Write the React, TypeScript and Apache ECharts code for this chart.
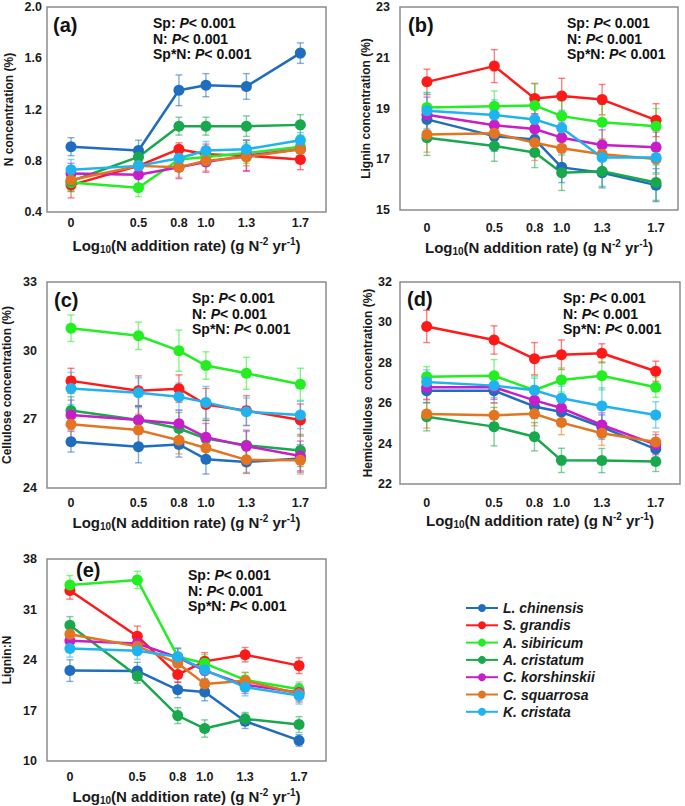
import React, { useEffect, useRef } from "react";
import * as echarts from "echarts";

// ---------- DATA ----------
const xPositions = [0, 0.5, 0.8, 1.0, 1.3, 1.7];
const xTickLabels = ["0", "0.5", "0.8", "1.0", "1.3", "1.7"];

const species = [
  "L. chinensis",
  "S. grandis",
  "A. sibiricum",
  "A. cristatum",
  "C. korshinskii",
  "C. squarrosa",
  "K. cristata",
];

// (a) N concentration (%)
const nConc = [
  [0.91, 0.88, 1.35, 1.39, 1.38, 1.64],
  [0.61, 0.76, 0.89, 0.85, 0.84, 0.81],
  [0.63, 0.59, 0.81, 0.83, 0.86, 0.91],
  [0.64, 0.83, 1.07, 1.07, 1.07, 1.08],
  [0.7, 0.69, 0.75, 0.79, 0.84, 0.89],
  [0.65, 0.76, 0.75, 0.8, 0.83, 0.89],
  [0.73, 0.76, 0.82, 0.88, 0.89, 0.96],
];
const nConcErr = [
  [0.07, 0.08, 0.12, 0.09, 0.1, 0.08],
  [0.1, 0.06, 0.05, 0.08, 0.12, 0.08],
  [0.07, 0.07, 0.07, 0.07, 0.08, 0.08],
  [0.08, 0.08, 0.07, 0.07, 0.08, 0.08],
  [0.08, 0.07, 0.09, 0.08, 0.12, 0.08],
  [0.08, 0.07, 0.08, 0.08, 0.07, 0.08],
  [0.08, 0.07, 0.07, 0.07, 0.07, 0.06],
];

// (b) Lignin concentration (%)
const ligninConc = [
  [18.57, 17.91, 17.78, 16.68, 16.47, 15.98],
  [20.05, 20.67, 19.39, 19.49, 19.35, 18.54],
  [19.04, 19.09, 19.12, 18.7, 18.46, 18.3],
  [17.85, 17.52, 17.27, 16.47, 16.53, 16.08],
  [18.75, 18.34, 18.19, 17.85, 17.56, 17.47],
  [17.98, 18.02, 17.65, 17.43, 17.2, 17.01],
  [18.91, 18.74, 18.57, 18.23, 17.07, 17.07],
];
const ligninConcErr = [
  [0.6, 0.6, 0.6, 0.6, 0.6, 0.65],
  [0.5, 0.65, 0.6, 0.7, 0.6, 0.65],
  [0.6, 0.6, 0.85, 0.6, 0.7, 0.7],
  [0.7, 0.6, 0.6, 0.7, 0.6, 0.7],
  [0.7, 0.6, 0.6, 0.6, 0.6, 0.6],
  [0.7, 0.6, 0.7, 0.6, 0.6, 0.6],
  [0.7, 0.6, 0.6, 0.7, 0.6, 0.6],
];

// (c) Cellulose concentration (%)
const celluloseConc = [
  [26.02, 25.8, 25.9, 25.26, 25.14, 25.29],
  [28.68, 28.25, 28.34, 27.65, 27.38, 26.97],
  [30.98, 30.65, 30.0, 29.35, 29.01, 28.53],
  [27.39, 26.97, 26.6, 26.16, 25.87, 25.64],
  [27.19, 26.97, 26.81, 26.22, 25.83, 25.4],
  [26.78, 26.53, 26.09, 25.75, 25.23, 25.21],
  [28.35, 28.16, 27.99, 27.74, 27.33, 27.19],
];
const celluloseConcErr = [
  [0.45, 0.7, 0.55, 0.65, 0.5, 0.6],
  [0.55, 0.65, 0.6, 0.7, 0.65, 0.7],
  [0.58, 0.6, 0.9, 0.6, 0.7, 0.7],
  [0.6, 0.6, 0.7, 0.8, 0.6, 0.7],
  [0.65, 0.6, 0.6, 0.6, 0.7, 0.65],
  [0.6, 0.7, 0.6, 0.6, 0.55, 0.6],
  [0.7, 0.65, 0.6, 0.7, 0.6, 0.6],
];

// (d) Hemicellulose concentration (%)
const hemiConc = [
  [26.62, 26.62, 25.84, 25.56, 24.82, 23.73],
  [29.8, 29.13, 28.2, 28.4, 28.47, 27.58],
  [27.31, 27.36, 26.64, 27.15, 27.36, 26.79],
  [25.33, 24.84, 24.34, 23.17, 23.16, 23.12],
  [26.79, 26.79, 26.14, 25.76, 24.92, 23.95],
  [25.47, 25.4, 25.48, 25.04, 24.51, 24.08],
  [27.05, 26.87, 26.64, 26.24, 25.86, 25.42],
];
const hemiConcErr = [
  [0.6, 0.6, 0.6, 0.6, 0.6, 0.5],
  [0.8, 0.7, 0.8, 0.73, 0.47, 0.5],
  [0.5, 0.8, 0.7, 0.6, 0.7, 0.5],
  [0.7, 0.95, 0.7, 0.6, 0.6, 0.5],
  [0.6, 0.6, 0.6, 0.6, 0.6, 0.5],
  [0.7, 0.6, 0.6, 0.6, 0.6, 0.5],
  [0.6, 0.6, 0.6, 0.6, 0.9, 0.65],
];

// (e) Lignin:N
const ligninN = [
  [22.53, 22.48, 19.87, 19.55, 15.51, 12.85],
  [33.63, 27.3, 21.98, 23.81, 24.73, 23.22],
  [34.41, 35.1, 24.46, 23.54, 21.24, 19.96],
  [28.82, 21.79, 16.29, 14.5, 15.83, 15.05],
  [26.66, 26.29, 24.36, 22.53, 20.56, 19.5],
  [27.58, 25.92, 23.54, 20.69, 21.11, 19.32],
  [25.6, 25.28, 24.46, 22.62, 20.23, 19.09],
];
const ligninNErr = [
  [1.5, 1.2, 1.1, 1.2, 1.0, 0.8],
  [1.2, 1.4, 1.1, 1.2, 1.0, 1.1],
  [1.3, 1.2, 1.2, 1.2, 1.0, 1.0],
  [1.2, 1.0, 1.1, 1.2, 0.9, 1.1],
  [1.2, 1.2, 1.2, 1.2, 1.2, 1.2],
  [1.2, 1.2, 1.2, 1.2, 1.2, 1.2],
  [1.2, 1.2, 1.2, 1.2, 1.2, 1.2],
];

const panelValues = [nConc, ligninConc, celluloseConc, hemiConc, ligninN];
const panelErrors = [nConcErr, ligninConcErr, celluloseConcErr, hemiConcErr, ligninNErr];
const panelLetters = ["(a)", "(b)", "(c)", "(d)", "(e)"];
const yAxisNames = [
  "N concentration (%)",
  "Lignin concentration (%)",
  "Cellulose concentration (%)",
  "Hemicellulose  concentration (%)",
  "Lignin:N",
];
const yMins = [0.4, 15, 24, 22, 10];
const yMaxs = [2.0, 23, 33, 32, 38];
const yIntervals = [0.4, 2, 3, 2, 7];
const statLines = ["Sp", "N", "Sp*N"];
const statP = "< 0.001";

// ---------- STYLE / LAYOUT ----------
const colors = ["#1f6dbf", "#ff1a1a", "#22ee22", "#1aa84e", "#c81ec8", "#e37520", "#1fb3f0"];
const FONT = '"Liberation Sans", Arial, Helvetica, sans-serif';

const grids = [
  { left: 47, top: 7, width: 279, height: 205 },
  { left: 400, top: 7, width: 278, height: 203 },
  { left: 47, top: 282, width: 279, height: 206 },
  { left: 400, top: 282, width: 280, height: 202 },
  { left: 47, top: 559, width: 279, height: 204 },
];
const xRanges = [
  [-0.178, 1.89],
  [-0.2, 1.863],
  [-0.178, 1.89],
  [-0.198, 1.88],
  [-0.17, 1.9],
];
const xLabelMargins = [4, 11, 8, 12, 9];
const xNameGaps = [24, 28, 25, 27, 26];
const yLabelMargins = [5, 10, 10, 8, 10];
const yNameGaps = [32, 26, 34, 26, 34];
const letterPos = [
  [53, 25],
  [408, 25],
  [54, 300],
  [407, 299],
  [76, 570],
];
const statPos = [
  [153, 23],
  [567, 23],
  [192, 298],
  [563, 298],
  [188, 575],
];

function rgba(hex: string, a: number) {
  const h = hex.replace("#", "");
  const r = parseInt(h.slice(0, 2), 16);
  const g = parseInt(h.slice(2, 4), 16);
  const b = parseInt(h.slice(4, 6), 16);
  return `rgba(${r},${g},${b},${a})`;
}

export default function App() {
  const ref = useRef<HTMLDivElement>(null);

  useEffect(() => {
    if (!ref.current) return;
    const chart = echarts.init(ref.current, null, { renderer: "svg" });

    const xName =
      "{n|Log}{sub|10}{n|(N addition rate) (g N}{sup|-2}{n| yr}{sup|-1}{n|)}";
    const xNameRich = {
      n: { fontSize: 15, fontWeight: "bold", fontFamily: FONT, color: "#1a1a1a", lineHeight: 18 },
      sub: {
        fontSize: 10,
        fontWeight: "bold",
        fontFamily: FONT,
        color: "#1a1a1a",
        lineHeight: 10,
        verticalAlign: "bottom",
      },
      sup: {
        fontSize: 10,
        fontWeight: "bold",
        fontFamily: FONT,
        color: "#1a1a1a",
        lineHeight: 10,
        verticalAlign: "top",
      },
    };

    const xAxes = grids.map((_, i) => ({
      type: "value",
      gridIndex: i,
      min: xRanges[i][0],
      max: xRanges[i][1],
      splitLine: { show: false },
      axisLine: { show: false },
      axisTick: { show: false },
      axisLabel: {
        customValues: xPositions,
        formatter: (v: number) => {
          const k = xPositions.findIndex((p) => Math.abs(p - v) < 1e-6);
          return k >= 0 ? xTickLabels[k] : "";
        },
        margin: xLabelMargins[i],
        fontSize: 12.5,
        fontWeight: "bold",
        fontFamily: FONT,
        color: "#1a1a1a",
      },
      name: xName,
      nameLocation: "middle",
      nameGap: xNameGaps[i],
      nameTextStyle: { rich: xNameRich },
    }));

    const yAxes = grids.map((_, i) => ({
      type: "value",
      gridIndex: i,
      min: yMins[i],
      max: yMaxs[i],
      interval: yIntervals[i],
      splitLine: { show: false },
      axisLine: { show: false },
      axisTick: { show: false },
      axisLabel: {
        margin: yLabelMargins[i],
        fontSize: 12.5,
        fontWeight: "bold",
        fontFamily: FONT,
        color: "#1a1a1a",
        formatter: (v: number) => (i === 0 ? v.toFixed(1) : String(Math.round(v))),
      },
      name: yAxisNames[i],
      nameLocation: "middle",
      nameGap: yNameGaps[i],
      nameTextStyle: { fontSize: 12, fontWeight: "bold", fontFamily: FONT, color: "#1a1a1a" },
    }));

    const lineSeries: any[] = [];
    const errSeries: any[] = [];
    panelValues.forEach((vals, pi) => {
      vals.forEach((row, si) => {
        const c = colors[si];
        lineSeries.push({
          type: "line",
          name: species[si],
          xAxisIndex: pi,
          yAxisIndex: pi,
          data: xPositions.map((x, k) => [x, row[k]]),
          symbol: "circle",
          symbolSize: 11,
          itemStyle: { color: c },
          lineStyle: { color: c, width: 2.5 },
          emphasis: { disabled: true },
          z: 3,
        });
        errSeries.push({
          type: "custom",
          name: species[si],
          xAxisIndex: pi,
          yAxisIndex: pi,
          data: xPositions.map((x, k) => [x, row[k], panelErrors[pi][si][k]]),
          encode: { x: 0, y: 1 },
          silent: true,
          z: 2,
          renderItem: (params: any, api: any) => {
            const x = api.value(0);
            const y = api.value(1);
            const e = api.value(2);
            const top = api.coord([x, y + e]);
            const bot = api.coord([x, y - e]);
            const style = { stroke: rgba(c, 0.55), lineWidth: 1.4 };
            const w = 3.5;
            return {
              type: "group",
              children: [
                { type: "line", shape: { x1: top[0], y1: top[1], x2: bot[0], y2: bot[1] }, style },
                { type: "line", shape: { x1: top[0] - w, y1: top[1], x2: top[0] + w, y2: top[1] }, style },
                { type: "line", shape: { x1: bot[0] - w, y1: bot[1], x2: bot[0] + w, y2: bot[1] }, style },
              ],
            };
          },
        });
      });
    });

    const graphics: any[] = [];
    panelLetters.forEach((lab, i) => {
      graphics.push({
        type: "text",
        x: letterPos[i][0],
        y: letterPos[i][1],
        silent: true,
        style: {
          text: lab,
          fontSize: 20,
          fontWeight: "bold",
          fontFamily: FONT,
          fill: "#111",
          align: "left",
          verticalAlign: "middle",
        },
      });
      statLines.forEach((s, j) => {
        graphics.push({
          type: "text",
          x: statPos[i][0],
          y: statPos[i][1] + j * 15.5,
          silent: true,
          style: {
            text: `{b|${s}: }{i|P}{b|${statP}}`,
            align: "left",
            verticalAlign: "middle",
            rich: {
              b: { fontSize: 14, fontWeight: "bold", fontFamily: FONT, fill: "#111" },
              i: { fontSize: 14, fontWeight: "bold", fontStyle: "italic", fontFamily: FONT, fill: "#111" },
            },
          },
        });
      });
    });

    chart.setOption({
      animation: false,
      backgroundColor: "#ffffff",
      grid: grids.map((g) => ({
        ...g,
        show: true,
        borderColor: "#8c8c8c",
        borderWidth: 1.5,
        backgroundColor: "transparent",
      })),
      xAxis: xAxes,
      yAxis: yAxes,
      legend: {
        data: species,
        orient: "vertical",
        left: 460,
        top: 596,
        itemWidth: 32,
        itemHeight: 10,
        itemGap: 3.3,
        textStyle: {
          fontSize: 14,
          fontWeight: "bold",
          fontStyle: "italic",
          fontFamily: FONT,
          color: "#1a1a1a",
        },
      },
      graphic: graphics,
      series: [...lineSeries, ...errSeries],
    });

    return () => chart.dispose();
  }, []);

  return (
    <div
      ref={ref}
      style={{ position: "absolute", left: 0, top: 0, width: 685, height: 806 }}
    />
  );
}
